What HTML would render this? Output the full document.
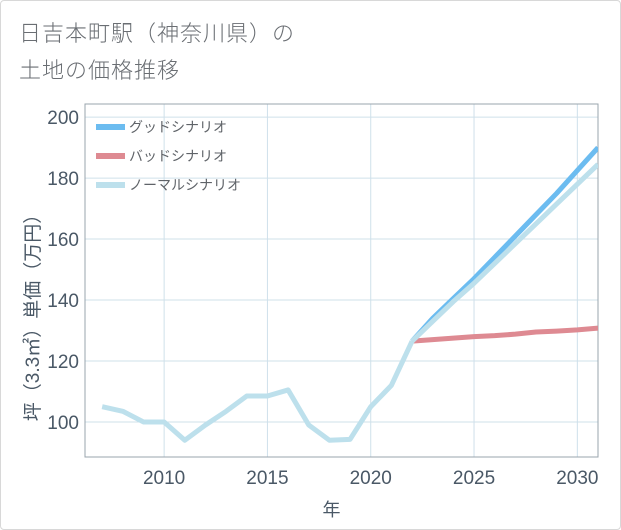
<!DOCTYPE html>
<html><head><meta charset="utf-8">
<style>
body{margin:0;background:#fff;}
#wrap{position:relative;width:619px;height:528px;border:1px solid #d8d8d8;border-radius:4px;background:#fff;font-family:"Liberation Sans","Noto Sans CJK JP",sans-serif;overflow:hidden;}
#title{position:absolute;left:18px;top:14px;font-size:22px;line-height:37px;color:#6a6e73;font-weight:300;letter-spacing:1px;}
svg{position:absolute;left:0;top:0;}
</style></head><body>
<div id="wrap">
<div id="title">日吉本町駅（神奈川県）の<br>土地の価格推移</div>
<svg id="chart" width="621" height="530"></svg>
</div>
<script>
const years=[2007,2008,2009,2010,2011,2012,2013,2014,2015,2016,2017,2018,2019,2020,2021,2022];
const normalHist=[105,103.5,100,100,94,99,103.5,108.5,108.5,110.5,99,94,94.3,105,112,126.5];
const futureYears=[2022,2023,2024,2025,2026,2027,2028,2029,2030,2031];
const goodVals=[126.5,134,140.5,147,154,161,168,175,182.5,190];
const badVals=[126.5,127,127.5,128,128.3,128.8,129.5,129.8,130.2,130.8];
const normalVals=[126.5,133,139.5,145.5,152,158.5,165,171.5,178,184.5];
const xTicks=[2010,2015,2020,2025,2030];
const yTicks=[100,120,140,160,180,200];

const L=84,R=597,T=103,B=456;
const xMin=2006.17,xMax=2031,yMin=88.5,yMax=204.3;
const xs=v=>L+(v-xMin)/(xMax-xMin)*(R-L);
const ys=v=>B-(v-yMin)/(yMax-yMin)*(B-T);
const NS='http://www.w3.org/2000/svg';
const svg=document.getElementById('chart');
function mk(tag,attrs){const e=document.createElementNS(NS,tag);for(const k in attrs)e.setAttribute(k,attrs[k]);svg.appendChild(e);return e;}

yTicks.forEach(v=>{
  const g=mk('line',{x1:L,x2:R,y1:ys(v),y2:ys(v),stroke:'#cfe0ea','stroke-width':1});
  
  
  const t=mk('text',{x:L-6,y:ys(v)+7,'text-anchor':'end','font-size':19,fill:'#4a5866'});
  t.textContent=v;
  
  
});
xTicks.forEach(v=>{
  const g=mk('line',{x1:xs(v),x2:xs(v),y1:T,y2:B,stroke:'#cfe0ea','stroke-width':1});
  
  
  const t=mk('text',{x:xs(v),y:B+27,'text-anchor':'middle','font-size':19,fill:'#4a5866'});
  t.textContent=v;
  
  
});
const fr=mk('rect',{x:L,y:T,width:R-L,height:B-T,fill:'none',stroke:'#9aa4ad','stroke-width':1});



const clip=mk('clipPath',{id:'pc'});
const cr=document.createElementNS(NS,'rect');
cr.setAttribute('x',L);cr.setAttribute('y',T);cr.setAttribute('width',R-L);cr.setAttribute('height',B-T);
clip.appendChild(cr);

function line(xv,yv,color,name){
  const p=mk('polyline',{points:xv.map((x,i)=>xs(x)+','+ys(yv[i])).join(' '),fill:'none',stroke:color,'stroke-width':5,'stroke-linejoin':'round','clip-path':'url(#pc)'});
  
  
}
line(futureYears,goodVals,'#6cbcf0','good-scenario-line');
line(futureYears,badVals,'#de8a92','bad-scenario-line');
line(years,normalHist,'#bde0ec','normal-history-line');
line(futureYears,normalVals,'#bde0ec','normal-scenario-line');

const leg=[['グッドシナリオ','#6cbcf0'],['バッドシナリオ','#de8a92'],['ノーマルシナリオ','#bde0ec']];
leg.forEach((d,i)=>{
  const y=126+i*29;
  const s=mk('rect',{x:95,y:y-3,width:29,height:6,fill:d[1]});
  
  
  const t=mk('text',{x:128,y:y+5,'font-size':14,fill:'#5f6368'});
  t.textContent=d[0];
  
  
});
const xt=mk('text',{x:(L+R)/2-10,y:515,'text-anchor':'middle','font-size':18,fill:'#4a5866'});
xt.textContent='年';


const yt=mk('text',{x:0,y:0,'text-anchor':'middle','font-size':19,fill:'#4a5866',transform:'translate(38,312) rotate(-90)'});
yt.textContent='坪（3.3㎡）単価（万円）';


</script>
</body></html>
